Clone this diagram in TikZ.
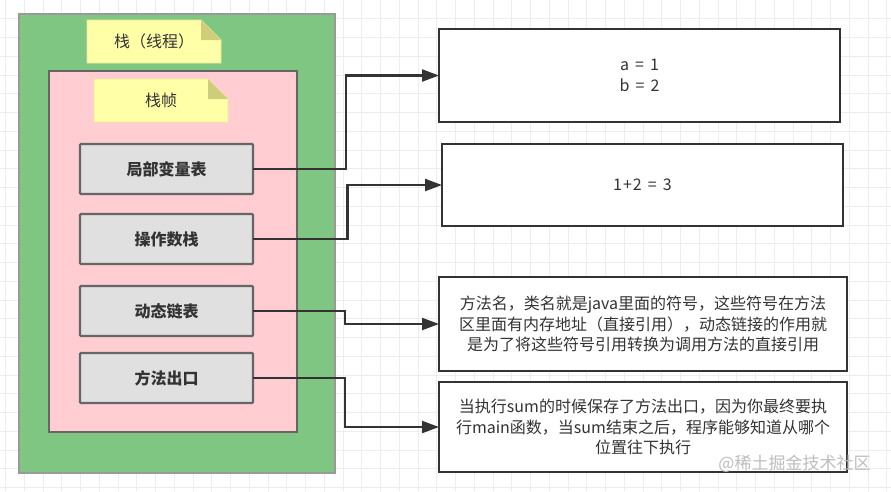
\documentclass[tikz,border=0pt]{standalone}
\usepackage{fontspec}
\setmainfont{Noto Sans CJK SC}
\usetikzlibrary{arrows.meta,calc}
\definecolor{gridc}{HTML}{EDEDED}
\definecolor{greenf}{HTML}{80C683}
\definecolor{greenb}{HTML}{999999}
\definecolor{pinkf}{HTML}{FFCDD2}
\definecolor{darkb}{HTML}{666666}
\definecolor{grayf}{HTML}{E0E0E0}
\definecolor{notef}{HTML}{FFFFA8}
\definecolor{noteb}{HTML}{EAEA98}
\definecolor{foldf}{HTML}{CFCD7A}
\definecolor{linec}{HTML}{333333}
\definecolor{txt}{HTML}{333333}
\definecolor{wmc}{HTML}{BDBDBD}
\tikzset{
  base/.style={rectangle, inner sep=0pt, outer sep=0pt, text=txt},
  greenbox/.style={base, fill=greenf, draw=greenb, line width=2pt},
  pinkbox/.style={base, fill=pinkf, draw=darkb, line width=2pt},
  itembox/.style={base, fill=grayf, draw=darkb, line width=2.2pt, rounded corners=1pt,
     minimum width=173, minimum height=50, font=\fontsize{16}{16}\selectfont\bfseries},
  notebox/.style={base, minimum width=134, minimum height=43, font=\fontsize{16}{16}\selectfont},
  infobox/.style={base, fill=white, draw=linec, line width=2.2pt, align=center,
     font=\fontsize{16}{20.8}\selectfont},
  conn/.style={draw=linec, line width=2.2pt, -{Triangle[length=17pt,width=12pt]}},
}
\begin{document}
\begin{tikzpicture}[x=1pt,y=-1pt]
\useasboundingbox (0,0) rectangle (891,491);
\fill[white] (0,0) rectangle (891,491);
% grid
\foreach \i in {0,...,47} \draw[gridc, line width=1pt] (5.5+18.75*\i,0) -- ++(0,491);
\foreach \j in {1,...,26} \draw[gridc, line width=1pt] (0,18.75*\j) -- ++(891,0);
% containers
\node[greenbox, minimum width=316, minimum height=459] (thread) at (177,243.5) {};
\node[pinkbox, minimum width=248, minimum height=361] (frame) at (173,251.5) {};
% notes
\node[notebox] (n1) at (154,41.5) {};
\fill[notef, draw=noteb, line width=0.8pt] (n1.north west) -- ($(n1.north east)+(-20,0)$) -- ($(n1.north east)+(0,20)$) -- (n1.south east) -- (n1.south west) -- cycle;
\fill[foldf] ($(n1.north east)+(-20,0)$) -- ($(n1.north east)+(-20,20)$) -- ($(n1.north east)+(0,20)$) -- cycle;
\node[notebox] at (n1.center) {栈（线程）};
\node[notebox] (n2) at (161,100.5) {};
\fill[notef, draw=noteb, line width=0.8pt] (n2.north west) -- ($(n2.north east)+(-20,0)$) -- ($(n2.north east)+(0,20)$) -- (n2.south east) -- (n2.south west) -- cycle;
\fill[foldf] ($(n2.north east)+(-20,0)$) -- ($(n2.north east)+(-20,20)$) -- ($(n2.north east)+(0,20)$) -- cycle;
\node[notebox] at (n2.center) {栈帧};
% items
\node[itembox] (b1) at (166.5,169) {局部变量表};
\node[itembox] (b2) at (166.5,239) {操作数栈};
\node[itembox] (b3) at (166.5,311) {动态链表};
\node[itembox] (b4) at (166.5,378) {方法出口};
% info boxes
\node[infobox, minimum width=401, minimum height=93] (ia) at (639.5,75.5) {a\kern2.5pt{} = \kern2.5pt{}1\\b\kern2.5pt{} = \kern2.5pt{}2};
\node[infobox, minimum width=401, minimum height=82] (ib) at (642.5,185) {1\kern1pt{}+\kern1pt{}2\kern2.5pt{} = \kern2.5pt{}3};
\node[infobox, minimum width=408, minimum height=94] (ic) at (643,324) {方法名，类名就是java里面的符号，这些符号在方法\\区里面有内存地址（直接引用），动态链接的作用就\\是为了将这些符号引用转换为调用方法的直接引用};
\node[infobox, minimum width=408, minimum height=90] (id) at (643,427) {当执行sum的时候保存了方法出口，因为你最终要执\\行main函数，当sum结束之后，程序能够知道从哪个\\位置往下执行};
% connectors
\coordinate (k1) at (346,0);
\coordinate (k2) at (347.5,0);
\coordinate (k3) at (345,0);
\draw[conn] (b1.east) -- (b1.east -| k1) |- (ia.west);
\draw[conn] (b2.east) -- (b2.east -| k2) |- (ib.west);
\draw[conn] (b3.east) -- (b3.east -| k3) |- (ic.west);
\draw[conn] (b4.east) -- (b4.east -| k3) |- (id.west);
% watermark
\node[base, text=wmc, font=\fontsize{17}{17}\selectfont] (wm) at (794.5,464) {@稀土掘金技术社区};
\end{tikzpicture}
\end{document}
